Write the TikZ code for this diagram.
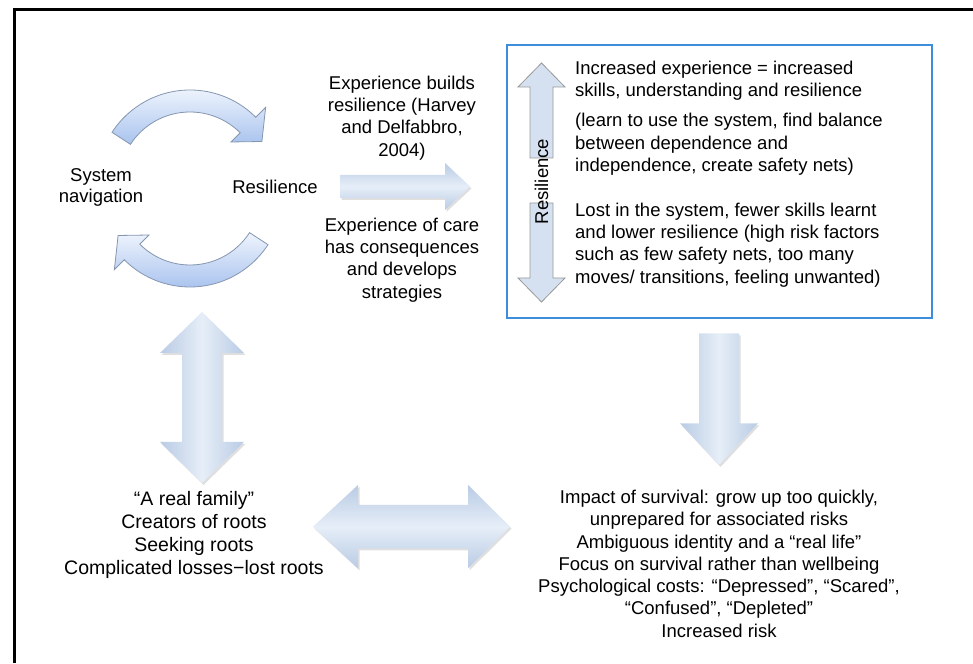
\documentclass[tikz,border=0pt]{standalone}
\usepackage{fontspec}
\setmainfont{Liberation Sans}
\usetikzlibrary{calc}
\usetikzlibrary{shadows}
\definecolor{arrowline}{HTML}{8496B0}
\definecolor{curvetop}{HTML}{EEF4FD}
\definecolor{curvebot}{HTML}{A9C3EE}
\definecolor{bevel}{HTML}{B9CBE4}
\definecolor{bevelhi}{HTML}{E6EEF8}
\definecolor{flatblue}{HTML}{D5E1F0}
\definecolor{boxblue}{HTML}{3C8DDB}

\begin{document}
\begin{tikzpicture}[x=1pt, y=1pt,
    txt/.style={inner sep=0pt, align=center, font=\fontsize{18.5}{22.3}\selectfont},
    curvearrow/.style={draw=arrowline, line width=0.8pt, top color=curvetop, bottom color=curvebot},
    bevelshadow/.style={drop shadow={opacity=0.25, shadow xshift=1.5pt, shadow yshift=-2pt, fill=gray}},
    bevelv/.style={bevelshadow, left color=bevel, right color=bevel, middle color=bevelhi},
    bevelh/.style={bevelshadow, top color=bevel, bottom color=bevel, middle color=bevelhi},
    flatarrow/.style={draw=gray!80, line width=0.8pt, fill=flatblue}]
  \useasboundingbox (0,0) rectangle (973,663);
  \def\Ro{93}
  \def\Ri{71}

  % frame
  \draw[line width=3pt] (14,0) -- (14,653) -- (973,653);

  % cycle arrows
  \begin{scope}[shift={(190,480)}]
    \path[curvearrow] (147:\Ro) arc[start angle=147, end angle=45, radius=\Ro]
      -- (45:107) -- (30:83) -- (45:58) -- (45:\Ri)
      arc[start angle=45, end angle=147, radius=\Ri] -- cycle;
  \end{scope}
  \begin{scope}[shift={(190,469)}]
    \path[curvearrow] (-33:\Ro) arc[start angle=-33, end angle=-135, radius=\Ro]
      -- (-135:107) -- (-150:83) -- (-135:58) -- (-135:\Ri)
      arc[start angle=-135, end angle=-33, radius=\Ri] -- cycle;
  \end{scope}
  \node[txt, font=\fontsize{18.5}{21}\selectfont] (sysnav) at (101,475.5) {System\\navigation};
  \node[txt] (resil) at (275,476) {Resilience};

  % experience arrow
  \path[bevelh] (340,488) -- (445,488) -- (445,500) -- (470,476.5)
    -- (445,453) -- (445,465) -- (340,465) -- cycle;
  \node[txt] (builds) at (402,545) {Experience builds\\resilience (Harvey\\and Delfabbro,\\2004)};
  \node[txt] (care) at (402,403) {Experience of care\\has consequences\\and develops\\strategies};

  % resilience box
  \draw[boxblue, line width=1.5pt] (507,345) rectangle (932,618);
  \path[flatarrow] (530,505) -- (530,576) -- (518,576) -- (541.5,600)
    -- (565,576) -- (553,576) -- (553,505) -- cycle;
  \path[flatarrow] (530,460) -- (530,385) -- (518,385) -- (541.5,361)
    -- (565,385) -- (553,385) -- (553,460) -- cycle;
  \node[txt, rotate=90] (boxresil) at (541.5,481.5) {Resilience};
  \node[txt, anchor=west, align=left] (incr) at (575,582)
    {Increased experience = increased\\skills, understanding and resilience};
  \node[txt, anchor=west, align=left] (learn) at (575,518.5)
    {(learn to use the system, find balance\\between dependence and\\independence, create safety nets)};
  \node[txt, anchor=west, align=left] (lost) at (575,418)
    {Lost in the system, fewer skills learnt\\and lower resilience (high risk factors\\such as few safety nets, too many\\moves/ transitions, feeling unwanted)};

  % roots and survival
  \path[bevelv] (202,351) -- (244,310) -- (222,310) -- (222,221) -- (244,221)
    -- (202,180) -- (160,221) -- (182,221) -- (182,310) -- (160,310) -- cycle;
  \path[bevelv] (699,329.7) -- (739,329.7) -- (739,239.7) -- (758,239.7)
    -- (719,198) -- (680,239.7) -- (699,239.7) -- cycle;
  \path[bevelh] (313,136.3) -- (358,178) -- (358,158) -- (468,158) -- (468,178)
    -- (510,136.3) -- (468,94.6) -- (468,114.6) -- (358,114.6) -- (358,94.6) -- cycle;
  \node[txt, font=\fontsize{19.5}{23}\selectfont] (family) at (194,128)
    {“A real family”\\Creators of roots\\Seeking roots\\Complicated losses−lost roots};
  \node[txt] (impact) at (719,99.3)
    {Impact of survival: grow up too quickly,\\unprepared for associated risks\\Ambiguous identity and a “real life”\\Focus on survival rather than wellbeing\\Psychological costs: “Depressed”, “Scared”,\\“Confused”, “Depleted”\\Increased risk};
\end{tikzpicture}
\end{document}
